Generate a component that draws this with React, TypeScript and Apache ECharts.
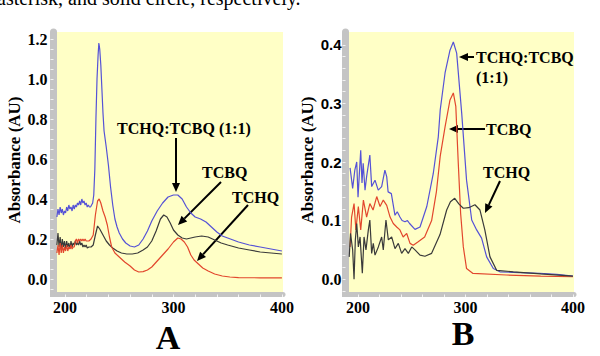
import React, { useEffect, useRef } from "react";
import * as echarts from "echarts";

// ---------- Panel A data (wavelength nm, absorbance AU) ----------
const aMix: number[][] = [
  [192.5, 0.31], [193.5, 0.35], [194.5, 0.32], [195.5, 0.36], [196.5, 0.33], [197.5, 0.35], [198.5, 0.32],
  [199.5, 0.34], [200.5, 0.33], [201.5, 0.36], [202.5, 0.34], [203.5, 0.37], [204.5, 0.35], [205.5, 0.36],
  [206.5, 0.34], [207.5, 0.37], [208.5, 0.35], [209.5, 0.37], [210.5, 0.36], [211.5, 0.38], [212.5, 0.37],
  [213.5, 0.39], [214.5, 0.37], [215.5, 0.4], [216.5, 0.38], [217.5, 0.39], [218.5, 0.37], [219.5, 0.38],
  [220.5, 0.36], [221.5, 0.37], [222.5, 0.36], [223.5, 0.36], [224.5, 0.37], [225.5, 0.38], [226.5, 0.42],
  [227.5, 0.55], [228.5, 0.8], [229.5, 1.0], [230.5, 1.12], [231.2, 1.18], [232, 1.15], [233, 1.07],
  [234, 0.95], [235, 0.83], [236, 0.74], [238, 0.66], [240, 0.57], [242, 0.46], [244, 0.37], [246, 0.3],
  [248, 0.26], [250, 0.23], [253, 0.2], [256, 0.18], [260, 0.165], [264, 0.16], [268, 0.17], [272, 0.2],
  [276, 0.24], [280, 0.29], [285, 0.34], [290, 0.38], [295, 0.41], [300, 0.42], [304, 0.42], [308, 0.4],
  [312, 0.36], [316, 0.33], [320, 0.31], [325, 0.3], [330, 0.285], [335, 0.26], [340, 0.235], [345, 0.215],
  [350, 0.205], [360, 0.185], [370, 0.17], [380, 0.16], [390, 0.15], [400, 0.14],
];
const aTCBQ: number[][] = [
  [192.5, 0.17], [193.5, 0.23], [194.5, 0.16], [195.5, 0.21], [196.5, 0.15], [197.5, 0.2], [198.5, 0.16],
  [199.5, 0.19], [200.5, 0.15], [201.5, 0.19], [202.5, 0.16], [203.5, 0.18], [204.5, 0.15], [205.5, 0.19],
  [206.5, 0.16], [207.5, 0.18], [208.5, 0.17], [209.5, 0.19], [210.5, 0.17], [211.5, 0.18], [212.5, 0.17],
  [213.5, 0.19], [214.5, 0.17], [215.5, 0.18], [216.5, 0.16], [217.5, 0.17], [218.5, 0.16], [219.5, 0.17],
  [220.5, 0.155], [222, 0.16], [224, 0.16], [226, 0.17], [228, 0.22], [230, 0.265], [232, 0.25], [234, 0.23],
  [236, 0.21], [238, 0.19], [241, 0.17], [244, 0.155], [248, 0.14], [252, 0.13], [257, 0.125], [262, 0.125],
  [267, 0.13], [272, 0.145], [276, 0.16], [280, 0.19], [284, 0.24], [288, 0.3], [291, 0.32], [294, 0.31],
  [297, 0.28], [300, 0.245], [304, 0.22], [308, 0.205], [312, 0.2], [316, 0.205], [320, 0.21], [326, 0.215],
  [332, 0.21], [338, 0.195], [344, 0.18], [350, 0.17], [360, 0.155], [370, 0.145], [380, 0.135], [390, 0.13],
  [400, 0.125],
];
const aTCHQ: number[][] = [
  [192.5, 0.13], [193.5, 0.17], [194.5, 0.12], [195.5, 0.18], [196.5, 0.13], [197.5, 0.17], [198.5, 0.13],
  [199.5, 0.16], [200.5, 0.14], [201.5, 0.17], [202.5, 0.14], [203.5, 0.16], [204.5, 0.15], [205.5, 0.17],
  [206.5, 0.15], [207.5, 0.16], [208.5, 0.16], [209.5, 0.19], [210.5, 0.2], [211.5, 0.18], [212.5, 0.2],
  [213.5, 0.19], [214.5, 0.2], [215.5, 0.19], [216.5, 0.2], [217.5, 0.19], [218.5, 0.2], [219.5, 0.19],
  [220.5, 0.19], [222, 0.19], [224, 0.2], [226, 0.22], [228, 0.32], [230, 0.39], [231.5, 0.4], [233, 0.38],
  [235, 0.34], [237, 0.31], [239, 0.27], [241, 0.21], [243, 0.16], [246, 0.13], [250, 0.11], [255, 0.085],
  [260, 0.065], [264, 0.045], [268, 0.035], [272, 0.037], [276, 0.045], [280, 0.06], [285, 0.09], [290, 0.12],
  [295, 0.15], [300, 0.185], [304, 0.205], [307, 0.2], [310, 0.185], [313, 0.16], [316, 0.12], [319, 0.095],
  [323, 0.075], [327, 0.055], [332, 0.04], [338, 0.025], [345, 0.015], [352, 0.01], [360, 0.007], [380, 0.006],
  [400, 0.006],
];

// ---------- Panel B data ----------
const bMix: number[][] = [
  [192.6, 0.19], [195, 0.155], [197, 0.186], [198.8, 0.2], [200, 0.14], [202.5, 0.22], [203.7, 0.164],
  [204.8, 0.198], [206.5, 0.152], [208, 0.175], [211, 0.212], [212.7, 0.158], [215.8, 0.169], [218.8, 0.152],
  [222, 0.158], [225, 0.186], [226.7, 0.175], [228, 0.149], [231, 0.146], [234.4, 0.109], [236.5, 0.115],
  [239, 0.106], [241, 0.1], [243.7, 0.098], [246, 0.1], [248, 0.095], [253, 0.085], [257.7, 0.089], [264, 0.124],
  [270, 0.18], [274.7, 0.243], [276.5, 0.289], [281, 0.352], [285.6, 0.391], [288.7, 0.405], [291.8, 0.386],
  [296.5, 0.283], [301, 0.169], [305.8, 0.101], [310.4, 0.084], [315, 0.07], [319.7, 0.038], [325.9, 0.018],
  [332, 0.0125], [350, 0.011], [369, 0.0097], [385, 0.008], [400, 0.005],
];
const bTCBQ: number[][] = [
  [192.6, 0.055], [194, 0.106], [196.3, 0.129], [198, 0.084], [200.3, 0.124], [202.5, 0.084], [205, 0.135],
  [208, 0.106], [211, 0.129], [214, 0.118], [217.4, 0.141], [220.5, 0.124], [223.5, 0.135], [226.7, 0.126],
  [229.8, 0.106], [232.8, 0.095], [236, 0.089], [239, 0.084], [242, 0.072], [245.3, 0.078], [248.4, 0.061],
  [251.4, 0.058], [256, 0.064], [262, 0.072], [268.5, 0.1], [273, 0.15], [276.5, 0.21], [281, 0.26],
  [285.6, 0.306], [288.7, 0.318], [291, 0.295], [293.3, 0.198], [295.5, 0.112], [298, 0.055], [301, 0.018],
  [307, 0.0097], [338, 0.007], [370, 0.005], [400, 0.004],
];
const bTCHQ: number[][] = [
  [191.8, 0.038], [193, 0.078], [195, 0.05], [196.3, 0.0], [197.5, 0.067], [198.8, 0.095], [200.3, 0.055],
  [201.9, 0.072], [204, 0.01], [205.6, 0.072], [207.4, 0.05], [209.6, 0.084], [211, 0.101], [212.7, 0.044],
  [214.2, 0.061], [215.8, 0.041], [218.9, 0.055], [222, 0.072], [223.5, 0.05], [226, 0.101], [228.2, 0.067],
  [231.3, 0.072], [234.4, 0.052], [237.5, 0.061], [240.6, 0.044], [243.7, 0.052], [246.8, 0.044], [250, 0.055],
  [253, 0.05], [257.7, 0.041], [262.3, 0.039], [268.5, 0.044], [276.3, 0.076], [282.5, 0.118], [286, 0.132],
  [290, 0.138], [294, 0.128], [298, 0.121], [303, 0.122], [308.8, 0.127], [313.5, 0.118], [318, 0.084],
  [322.8, 0.038], [329, 0.015], [344.5, 0.0125], [370, 0.009], [400, 0.005],
];

// ---------- Axis ticks ----------
const xLabelValues = [200, 300, 400];
const xTickValues = [200, 220, 240, 260, 280, 300, 320, 340, 360, 380, 400];
const aYLabelValues = [0, 0.2, 0.4, 0.6, 0.8, 1.0, 1.2];
const aYTickValues = [-0.05, 0, 0.05, 0.1, 0.15, 0.2, 0.25, 0.3, 0.35, 0.4, 0.45, 0.5, 0.55, 0.6, 0.65, 0.7, 0.75, 0.8, 0.85, 0.9, 0.95, 1.0, 1.05, 1.1, 1.15, 1.2];
const bYLabelValues = [0, 0.1, 0.2, 0.3, 0.4];
const bYTickValues = [-0.02, 0, 0.02, 0.04, 0.06, 0.08, 0.1, 0.12, 0.14, 0.16, 0.18, 0.2, 0.22, 0.24, 0.26, 0.28, 0.3, 0.32, 0.34, 0.36, 0.38, 0.4];

const SERIF = "'Liberation Serif', serif";
const SANS = "'Liberation Sans', sans-serif";
const BLUE = "#5552d6";
const RED = "#e2472d";
const BLACK = "#3a3a3a";
const YELLOW = "#ffffc6";
const STRIP = "#c4c4c4";

function arrow(x1: number, y1: number, x2: number, y2: number) {
  const dx = x2 - x1, dy = y2 - y1;
  const L = Math.hypot(dx, dy);
  const ux = dx / L, uy = dy / L;
  const hl = 9, hw = 4;
  const bx = x2 - ux * hl, by = y2 - uy * hl;
  return [
    { type: "line", shape: { x1, y1, x2: bx, y2: by }, style: { stroke: "#000", lineWidth: 2 } },
    {
      type: "polygon",
      shape: { points: [[x2, y2], [bx - uy * hw, by + ux * hw], [bx + uy * hw, by - ux * hw]] },
      style: { fill: "#000" },
    },
  ];
}

function label(text: string, x: number, y: number, size = 16, align = "left") {
  return {
    type: "text",
    x,
    y,
    style: { text, fontFamily: SERIF, fontWeight: "bold", fontSize: size, fill: "#000", textAlign: align, textVerticalAlign: "middle" },
  };
}

function yAxisCfg(gridIndex: number, min: number, max: number, labels: number[], ticks: number[], margin: number, rich: boolean) {
  return {
    type: "value",
    gridIndex,
    min,
    max,
    offset: 3.5,
    splitLine: { show: false },
    axisLine: { show: true, lineStyle: { color: STRIP, width: 7 } },
    axisTick: { show: true, customValues: ticks, length: 3, lineStyle: { color: "#f2f2f2", width: 1 } },
    axisLabel: {
      customValues: labels,
      margin,
      fontFamily: SERIF,
      fontWeight: "bold",
      fontSize: 16,
      color: "#000",
      formatter: (v: number) => {
        const s = Number(v).toFixed(1);
        if (!rich) return s;
        return v >= 0.15 ? `{s|${s}}` : `{t|${s}}`;
      },
      rich: {
        s: { fontFamily: SANS, fontWeight: "bold", fontSize: 15, color: "#000" },
        t: { fontFamily: SERIF, fontWeight: "bold", fontSize: 16, color: "#000" },
      },
    },
  };
}

function xAxisCfg(gridIndex: number, min: number) {
  return {
    type: "value",
    gridIndex,
    min,
    max: 401,
    offset: 2.5,
    splitLine: { show: false },
    axisLine: { show: true, onZero: false, lineStyle: { color: STRIP, width: 5 } },
    axisTick: { show: true, customValues: xTickValues, length: 2.5, lineStyle: { color: "#f2f2f2", width: 1 } },
    axisLabel: {
      customValues: xLabelValues,
      margin: 5,
      fontFamily: SERIF,
      fontWeight: "bold",
      fontSize: 16,
      color: "#000",
    },
  };
}

function lineSeries(data: number[][], color: string, idx: number) {
  return {
    type: "line",
    data,
    xAxisIndex: idx,
    yAxisIndex: idx,
    showSymbol: false,
    symbol: "none",
    lineStyle: { color, width: 1.2 },
    silent: true,
  };
}

export default function App() {
  const ref = useRef<HTMLDivElement>(null);
  useEffect(() => {
    if (!ref.current) return;
    const chart = echarts.init(ref.current, null, { renderer: "svg" });
    const option = {
      animation: false,
      backgroundColor: "#ffffff",
      grid: [
        { left: 57, right: 317, top: 32, bottom: 64, show: true, backgroundColor: YELLOW, borderWidth: 0 },
        { left: 349, right: 26, top: 32, bottom: 64, show: true, backgroundColor: YELLOW, borderWidth: 0 },
      ],
      xAxis: [xAxisCfg(0, 192.6), xAxisCfg(1, 191.6)],
      yAxis: [
        yAxisCfg(0, -0.065, 1.235, aYLabelValues, aYTickValues, 6, false),
        yAxisCfg(1, -0.022, 0.422, bYLabelValues, bYTickValues, 4, true),
      ],
      series: [
        lineSeries(aMix, BLUE, 0),
        lineSeries(aTCBQ, BLACK, 0),
        lineSeries(aTCHQ, RED, 0),
        lineSeries(bMix, BLUE, 1),
        lineSeries(bTCBQ, RED, 1),
        lineSeries(bTCHQ, BLACK, 1),
      ],
      graphic: [
        { type: "rect", shape: { x: 50, y: 292, width: 7, height: 5 }, style: { fill: STRIP } },
        { type: "rect", shape: { x: 342, y: 292, width: 7, height: 5 }, style: { fill: STRIP } },
        {
          type: "text",
          x: -3,
          y: 8,
          style: { text: "asterisk, and solid circle, respectively.", fontFamily: SERIF, fontSize: 20, fill: "#000", textAlign: "left", textVerticalAlign: "bottom" },
        },
        {
          type: "text", x: 14, y: 160, rotation: Math.PI / 2,
          style: { text: "Absorbance (AU)", fontFamily: SERIF, fontWeight: "bold", fontSize: 17, fill: "#000", textAlign: "center", textVerticalAlign: "middle" },
        },
        {
          type: "text", x: 307, y: 160, rotation: Math.PI / 2,
          style: { text: "Absorbance (AU)", fontFamily: SERIF, fontWeight: "bold", fontSize: 17, fill: "#000", textAlign: "center", textVerticalAlign: "middle" },
        },
        label("A", 168, 337, 34, "center"),
        label("B", 463, 333, 34, "center"),
        label("TCHQ:TCBQ (1:1)", 184, 128, 16, "center"),
        ...arrow(176, 138, 176, 192),
        label("TCBQ", 202, 172),
        ...arrow(221, 182, 178, 225),
        label("TCHQ", 232, 197),
        ...arrow(248, 205, 197, 261),
        label("TCHQ:TCBQ", 476, 57),
        label("(1:1)", 476, 77),
        ...arrow(474, 57, 459, 57),
        label("TCBQ", 486, 129),
        ...arrow(485, 129, 449, 129),
        label("TCHQ", 483, 172),
        ...arrow(500, 181, 485, 213),
      ],
    };
    chart.setOption(option as any);
    return () => chart.dispose();
  }, []);
  return (
    <div
      ref={ref}
      style={{ position: "absolute", left: 0, top: 0, width: 600, height: 356, background: "#fff" }}
    />
  );
}
